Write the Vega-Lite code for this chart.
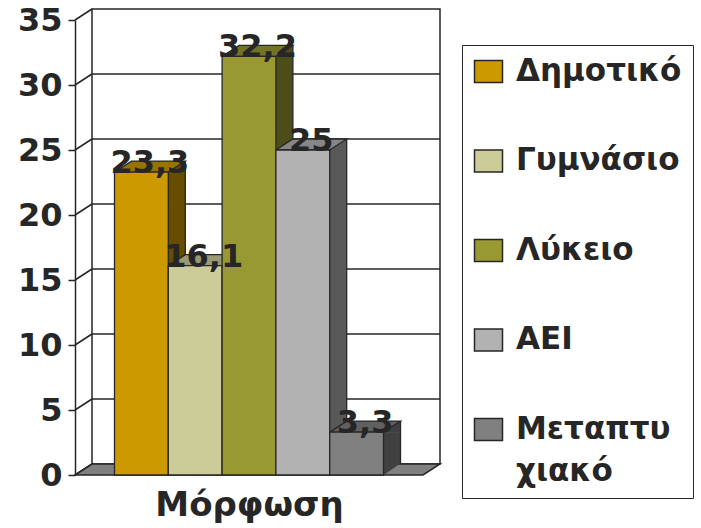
{
  "$schema": "https://vega.github.io/schema/vega-lite/v6.json",
  "width": 348,
  "height": 455,
  "autosize": {"type": "none"},
  "padding": {"left": 75, "top": 20, "right": 278, "bottom": 53},
  "background": "white",
  "config": {
    "view": {"stroke": null},
    "font": "DejaVu Sans",
    "style": {"guide-label": {"lineHeight": 42}},
    "locale": {
      "number": {"decimal": ",", "thousands": ".", "grouping": [3], "currency": ["", " €"]}
    }
  },
  "datasets": {
    "education": [
      {"level": "Δημοτικό", "percent": 23.3},
      {"level": "Γυμνάσιο", "percent": 16.1},
      {"level": "Λύκειο", "percent": 32.2},
      {"level": "ΑΕΙ", "percent": 25},
      {"level": "Μεταπτυχιακό", "percent": 3.3}
    ],
    "wall": [{"from": 0, "to": 35}],
    "gridTicks": [{"v": 5}, {"v": 10}, {"v": 15}, {"v": 20}, {"v": 25}, {"v": 30}],
    "sideTicks": [{"v": 0}, {"v": 5}, {"v": 10}, {"v": 15}, {"v": 20}, {"v": 25}, {"v": 30}, {"v": 35}]
  },
  "data": {"name": "education"},
  "layer": [
    {
      "data": {"name": "wall"},
      "mark": {"type": "rect", "fill": "white", "stroke": "#262626", "strokeWidth": 1.5,
               "xOffset": 17, "x2Offset": 17, "yOffset": -11, "y2Offset": -11},
      "encoding": {
        "x": {"value": 0},
        "x2": {"value": "width"},
        "y": {
          "field": "from", "type": "quantitative",
          "scale": {"domain": [0, 35], "nice": false, "zero": true},
          "axis": {
            "title": null, "values": [0, 5, 10, 15, 20, 25, 30, 35],
            "grid": false, "tickSize": 7, "tickColor": "#262626", "tickWidth": 1.5,
            "domainColor": "#262626", "domainWidth": 1.5,
            "labelFont": "DejaVu Sans", "labelFontWeight": "bold", "labelFontSize": 32,
            "labelColor": "#262626", "labelPadding": 6, "labelFlush": false, "labelOverlap": false
          }
        },
        "y2": {"field": "to"}
      }
    },
    {
      "data": {"name": "gridTicks"},
      "mark": {"type": "rule", "color": "#262626", "strokeWidth": 1.5,
               "xOffset": 17, "x2Offset": 17, "yOffset": -11},
      "encoding": {
        "x": {"value": 0},
        "x2": {"value": "width"},
        "y": {"field": "v", "type": "quantitative"}
      }
    },
    {
      "data": {"name": "sideTicks"},
      "mark": {"type": "rule", "color": "#262626", "strokeWidth": 1.5,
               "x2Offset": 17, "y2Offset": -11},
      "encoding": {
        "x": {"value": 0},
        "x2": {"value": 0},
        "y": {"field": "v", "type": "quantitative"},
        "y2": {"field": "v"}
      }
    },
    {
      "data": {"values": [{"base": 0}]},
      "mark": {"type": "point", "shape": "M0,0L348,0L365,-11L17,-11Z", "size": 4,
               "filled": true, "opacity": 1, "fill": "#808080",
               "stroke": "#262626", "strokeWidth": 1.5},
      "encoding": {
        "x": {"value": 0},
        "y": {"field": "base", "type": "quantitative"}
      }
    },
    {
      "mark": {"type": "bar", "width": 17, "xOffset": 35.4, "y2Offset": -11, "opacity": 1},
      "encoding": {
        "x": {"field": "level", "type": "nominal", "sort": null},
        "y": {"field": "percent", "type": "quantitative"},
        "y2": {"datum": 0},
        "color": {"field": "level", "type": "nominal", "sort": null, "legend": null,
                  "scale": {"range": ["#664d00", "#666646", "#4d4d1a", "#595959", "#404040"]}}
      }
    },
    {
      "mark": {"type": "point", "shape": "M26.9,0.5L43.9,-11L43.9,0.5Z", "size": 4,
               "filled": true, "opacity": 1, "strokeWidth": 0},
      "encoding": {
        "x": {"field": "level", "type": "nominal", "sort": null},
        "y": {"field": "percent", "type": "quantitative"},
        "color": {"field": "level", "type": "nominal", "sort": null, "legend": null,
                  "scale": {"range": ["#664d00", "#666646", "#4d4d1a", "#595959", "#404040"]}}
      }
    },
    {
      "mark": {"type": "point", "shape": "M26.9,-11.5L26.9,0L43.9,-11.5Z", "size": 4,
               "filled": true, "opacity": 1, "strokeWidth": 0},
      "encoding": {
        "x": {"field": "level", "type": "nominal", "sort": null},
        "y": {"datum": 0, "type": "quantitative"},
        "color": {"field": "level", "type": "nominal", "sort": null, "legend": null,
                  "scale": {"range": ["#664d00", "#666646", "#4d4d1a", "#595959", "#404040"]}}
      }
    },
    {
      "mark": {"type": "rule", "color": "#262626", "strokeWidth": 1.3,
               "xOffset": 43.9, "yOffset": -11, "y2Offset": -11},
      "encoding": {
        "x": {"field": "level", "type": "nominal", "sort": null},
        "y": {"field": "percent", "type": "quantitative"},
        "y2": {"datum": 0}
      }
    },
    {
      "mark": {"type": "point", "shape": "M-26.9,0L26.9,0L43.9,-11L-9.9,-11Z", "size": 4,
               "filled": true, "opacity": 1, "stroke": "#262626", "strokeWidth": 1.3},
      "encoding": {
        "x": {"field": "level", "type": "nominal", "sort": null},
        "y": {"field": "percent", "type": "quantitative"},
        "color": {"field": "level", "type": "nominal", "sort": null, "legend": null,
                  "scale": {"range": ["#997300", "#999973", "#737326", "#868686", "#606060"]}}
      }
    },
    {
      "mark": {"type": "bar", "stroke": "#262626", "strokeWidth": 1.3, "opacity": 1},
      "encoding": {
        "x": {
          "field": "level", "type": "nominal", "sort": null,
          "scale": {"paddingInner": 0, "paddingOuter": 0.734},
          "axis": {
            "labels": false, "ticks": false, "domain": false, "title": "Μόρφωση",
            "titleFont": "DejaVu Sans", "titleFontWeight": "bold", "titleFontSize": 34,
            "titleColor": "#262626", "titlePadding": 13
          }
        },
        "y": {"field": "percent", "type": "quantitative"},
        "color": {
          "field": "level", "type": "nominal", "sort": null,
          "scale": {"range": ["#cc9900", "#cccc99", "#999933", "#b2b2b2", "#808080"]},
          "legend": {
            "orient": "none", "legendX": 387, "legendY": 25, "direction": "vertical",
            "title": null, "strokeColor": "#262626", "padding": 11,
            "symbolType": "M-1,-0.79H1V0.79H-1Z", "symbolSize": 784,
            "symbolStrokeColor": "#262626", "symbolStrokeWidth": 1.5, "symbolOpacity": 1,
            "labelFont": "DejaVu Sans", "labelFontWeight": "bold", "labelFontSize": 31,
            "labelColor": "#262626", "labelOffset": 12, "labelLimit": 400,
            "rowPadding": 57.5,
            "labelExpr": "datum.label == 'Μεταπτυχιακό' ? ['Μεταπτυ', 'χιακό'] : datum.label"
          }
        }
      }
    },
    {
      "mark": {"type": "text", "font": "DejaVu Sans", "fontWeight": "bold", "fontSize": 32,
               "fill": "#262626", "baseline": "alphabetic", "align": "center", "dx": 8.5, "dy": 1},
      "encoding": {
        "x": {"field": "level", "type": "nominal", "sort": null},
        "y": {"field": "percent", "type": "quantitative"},
        "text": {"field": "percent", "type": "quantitative", "format": ".1~f"}
      }
    }
  ],
  "resolve": {"scale": {"color": "independent"}}
}
